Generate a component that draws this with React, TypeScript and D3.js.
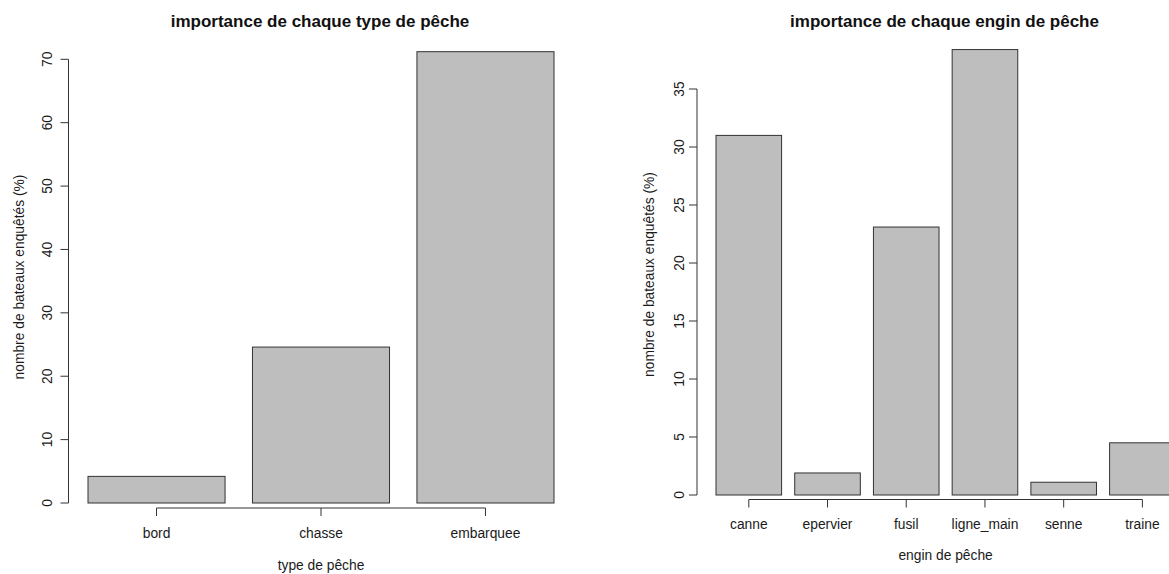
import React from "react";
import * as d3 from "d3";

const typeCategories = ["bord", "chasse", "embarquee"];
const typeValues = [4.2, 24.6, 71.2];
const typeTicks = [0, 10, 20, 30, 40, 50, 60, 70];

const enginCategories = ["canne", "epervier", "fusil", "ligne_main", "senne", "traine"];
const enginValues = [31.0, 1.9, 23.1, 38.4, 1.1, 4.5];
const enginTicks = [0, 5, 10, 15, 20, 25, 30, 35];

const FONT = "'Liberation Sans', Arial, sans-serif";
const TEXT = "#1a1a1a";
const AXIS = "#333";
const FS = 13.8;

type PanelProps = {
  title: string;
  xTitle: string;
  yTitle: string;
  cats: string[];
  vals: number[];
  ticks: number[];
  yMax: number;
  xRange: [number, number];
  yRange: [number, number];
  axisX: number;
  axisY: number;
  titleX: number;
  yLabelX: number;
  yLabelY: number;
  tickLabelX: number;
  catLabelY: number;
  xTitleY: number;
};

function Panel(p: PanelProps) {
  const n = p.cats.length;
  const x = d3.scaleLinear().domain([0.2, 0.2 + 1.2 * n - 0.2]).range(p.xRange);
  const y = d3.scaleLinear().domain([0, p.yMax]).range(p.yRange);
  const left = (i: number) => 0.2 + 1.2 * i;
  const mid = (i: number) => left(i) + 0.5;
  return (
    <g fontFamily={FONT}>
      <text x={p.titleX} y={26.5} textAnchor="middle" fontWeight="bold" fontSize={17} fill="#111">
        {p.title}
      </text>
      {p.vals.map((v, i) => (
        <rect
          key={p.cats[i]}
          x={x(left(i))}
          y={y(v)}
          width={x(left(i) + 1) - x(left(i))}
          height={y(0) - y(v)}
          fill="#bebebe"
          stroke={AXIS}
          strokeWidth={1}
        />
      ))}
      {/* y axis */}
      <line x1={p.axisX} x2={p.axisX} y1={y(0)} y2={y(p.ticks[p.ticks.length - 1])} stroke={AXIS} />
      {p.ticks.map((t) => (
        <g key={t}>
          <line x1={p.axisX - 8} x2={p.axisX} y1={y(t)} y2={y(t)} stroke={AXIS} />
          <text
            transform={`translate(${p.tickLabelX},${y(t)}) rotate(-90)`}
            textAnchor="middle"
            fontSize={FS}
            fill={TEXT}
          >
            {t}
          </text>
        </g>
      ))}
      <text
        transform={`translate(${p.yLabelX},${p.yLabelY}) rotate(-90)`}
        textAnchor="middle"
        fontSize={FS}
        fill={TEXT}
      >
        {p.yTitle}
      </text>
      {/* x axis */}
      <line x1={x(mid(0))} x2={x(mid(n - 1))} y1={p.axisY} y2={p.axisY} stroke={AXIS} />
      {p.cats.map((c, i) => (
        <g key={c}>
          <line x1={x(mid(i))} x2={x(mid(i))} y1={p.axisY} y2={p.axisY + 8} stroke={AXIS} />
          <text x={x(mid(i))} y={p.catLabelY} textAnchor="middle" fontSize={FS} fill={TEXT}>
            {c}
          </text>
        </g>
      ))}
      <text x={(x(mid(0)) + x(mid(n - 1))) / 2} y={p.xTitleY} textAnchor="middle" fontSize={FS} fill={TEXT}>
        {p.xTitle}
      </text>
    </g>
  );
}

export default function App() {
  return (
    <svg
      width={1169}
      height={574}
      style={{ position: "absolute", left: 0, top: 0, background: "#fff" }}
    >
      <Panel
        title="importance de chaque type de pêche"
        xTitle="type de pêche"
        yTitle="nombre de bateaux enquêtés (%)"
        cats={typeCategories}
        vals={typeValues}
        ticks={typeTicks}
        yMax={70}
        xRange={[88, 554]}
        yRange={[503, 59.3]}
        axisX={68.5}
        axisY={508}
        titleX={320}
        yLabelX={24}
        yLabelY={277}
        tickLabelX={52}
        catLabelY={538}
        xTitleY={570}
      />
      <Panel
        title="importance de chaque engin de pêche"
        xTitle="engin de pêche"
        yTitle="nombre de bateaux enquêtés (%)"
        cats={enginCategories}
        vals={enginValues}
        ticks={enginTicks}
        yMax={35}
        xRange={[716, 1175.2]}
        yRange={[495, 89]}
        axisX={697}
        axisY={499.5}
        titleX={944.5}
        yLabelX={653.5}
        yLabelY={274.5}
        tickLabelX={684}
        catLabelY={529}
        xTitleY={560}
      />
    </svg>
  );
}
